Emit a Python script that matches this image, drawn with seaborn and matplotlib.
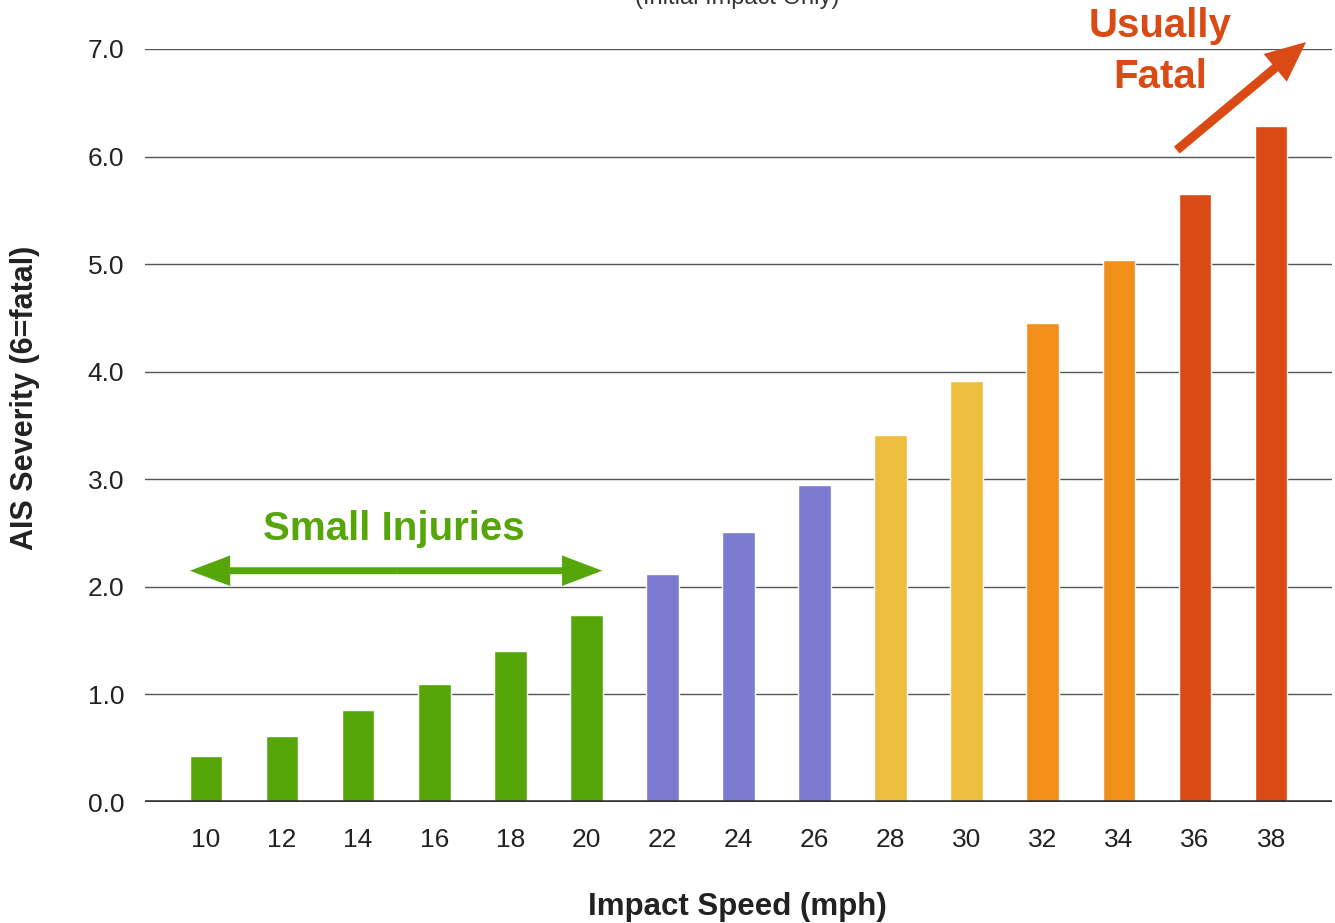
import matplotlib
matplotlib.use("Agg")
import matplotlib.pyplot as plt
import seaborn as sns
import pandas as pd

speeds = ["10", "12", "14", "16", "18", "20", "22", "24", "26", "28", "30", "32", "34", "36", "38"]
severity = [0.43, 0.61, 0.855, 1.10, 1.40, 1.74, 2.12, 2.51, 2.95, 3.41, 3.91, 4.45, 5.04, 5.65, 6.28]
groups = ["g", "g", "g", "g", "g", "g", "p", "p", "p", "y", "y", "o", "o", "r", "r"]
group_colors = {"g": "#56A60A", "p": "#7A7BD1", "y": "#EDBE3D", "o": "#F09018", "r": "#D94A14"}
yticks = [0, 1, 2, 3, 4, 5, 6, 7]

sns.set_theme(style="white")
plt.rcParams["font.family"] = ["Liberation Sans", "DejaVu Sans"]

df = pd.DataFrame({"speed": speeds, "sev": severity, "grp": groups})
palette = {s: group_colors[g] for s, g in zip(speeds, groups)}

fig = plt.figure(figsize=(13.35, 9.23), dpi=100)
ax = fig.add_axes([145/1335, 1-802/923, (1332-145)/1335, (802-49)/923])

for yv in yticks[1:]:
    ax.axhline(yv, color="#555555", lw=1.0, zorder=0)

sns.barplot(data=df, x="speed", y="sev", hue="speed", palette=palette, order=speeds,
            legend=False, width=0.43, ax=ax, zorder=2, saturation=1)
ax.axhline(0, color="#333333", lw=2.6, zorder=3)

ax.set_xlim(-0.8, 14.8)
ax.set_ylim(0, 7)
ax.set_yticks(yticks)
ax.set_yticklabels([f"{v:.1f}" for v in yticks])
for s in ax.spines.values():
    s.set_visible(False)
ax.tick_params(axis="both", length=0, labelsize=19, colors="#222222")
ax.tick_params(axis="y", pad=15)
ax.tick_params(axis="x", pad=19)
ax.set_xlabel("")
ax.set_ylabel("")

fig.text(737/1335, 1-907/923, "Impact Speed (mph)", ha="center", va="center",
         fontsize=22.5, fontweight="bold", color="#222222")
fig.text(25/1335, 1-398/923, "AIS Severity (6=fatal)", ha="center", va="center",
         rotation=90, fontsize=22, fontweight="bold", color="#222222")
fig.text(737/1335, 1-4/923, "(Initial Impact Only)", ha="center", va="baseline",
         fontsize=17, color="#333333")

ax.text(2.47, 2.44, "Small Injuries", ha="center", va="baseline", fontsize=29,
        fontweight="bold", color="#56A60A")
mid = 2.5
for end in (-0.21, 5.21):
    ax.annotate("", xy=(end, 2.15), xytext=(mid, 2.15),
                arrowprops=dict(arrowstyle="simple,head_length=29,head_width=22,tail_width=5",
                                mutation_scale=1, color="#56A60A", lw=0,
                                shrinkA=0, shrinkB=0), annotation_clip=False)

ax.text(12.54, 7.11, "Usually", ha="center", va="baseline", fontsize=29,
        fontweight="bold", color="#D94A14", clip_on=False)
ax.text(12.54, 6.64, "Fatal", ha="center", va="baseline", fontsize=29,
        fontweight="bold", color="#D94A14", clip_on=False)
ax.annotate("", xy=(14.46, 7.065), xytext=(12.76, 6.06),
            arrowprops=dict(arrowstyle="simple,head_length=29,head_width=26,tail_width=6.5",
                            mutation_scale=1, color="#D94A14", lw=0,
                            shrinkA=0, shrinkB=0), annotation_clip=False)

fig.savefig("out.png", dpi=100)
